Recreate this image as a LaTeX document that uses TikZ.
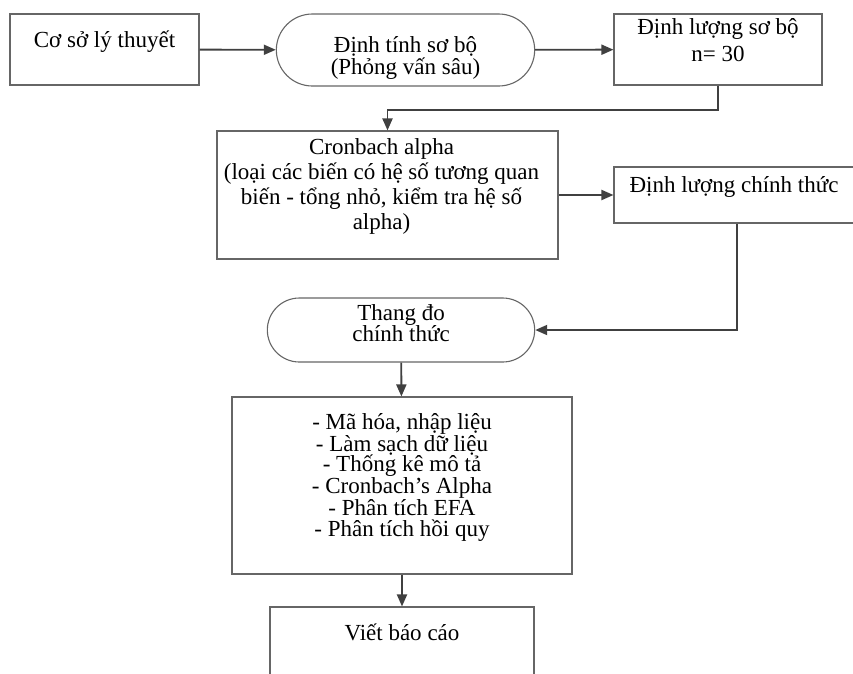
\documentclass[tikz,border=0pt]{standalone}
\usepackage{fontspec}
\setmainfont{Liberation Serif}
\usetikzlibrary{positioning,shapes.misc,arrows.meta}

\begin{document}
\begin{tikzpicture}[x=1pt, y=-1pt,
    box/.style={rectangle, draw=black!60, line width=1.1pt},
    pill/.style={rounded rectangle, draw=black!60, line width=1.1pt},
    txt/.style={align=center, inner sep=0pt, anchor=base, font=\fontsize{23}{25}\selectfont},
    flow/.style={->, draw=black!75, line width=1.9pt},
    >={Triangle[length=12pt,width=10pt]}]
    \useasboundingbox (0,0) rectangle (853,673);
    \clip (0,0) rectangle (853,673);
    % Boxes
    \node[box, minimum width=189pt, minimum height=71pt] (theory) at (104.5,49.5) {};
    \node[pill, minimum width=265pt, minimum height=72pt] (qual) at (405.5,50) {};
    \node[box, minimum width=208pt, minimum height=71pt] (pilot) at (718,49.5) {};
    \node[box, minimum width=341pt, minimum height=128pt] (cronbach) at (387.5,195) {};
    \node[box, minimum width=246pt, minimum height=56pt] (formal) at (737,195) {};
    \node[pill, minimum width=274pt, minimum height=64pt] (scale) at (401,330) {};
    \node[box, minimum width=340pt, minimum height=177pt] (analysis) at (402,485.5) {};
    \node[box, minimum width=264pt, minimum height=93pt] (report) at (402,653.5) {};
    % Texts (base = last line)
    \node[txt] (theory-t) at ([yshift=-34pt]theory.north) {Cơ sở lý thuyết};
    \node[txt, font=\fontsize{23}{22}\selectfont] (qual-t) at ([yshift=-61pt]qual.north) {Định tính sơ bộ\\(Phỏng vấn sâu)};
    \node[txt, font=\fontsize{23}{27}\selectfont] (pilot-t) at ([yshift=-48pt]pilot.north) {Định lượng sơ bộ\\n= 30};
    \node[txt, font=\fontsize{23}{25}\selectfont] (cronbach-t) at ([xshift=-6pt,yshift=-99pt]cronbach.north) {Cronbach alpha\\(loại các biến có hệ số tương quan\\biến - tổng nhỏ, kiểm tra hệ số\\alpha)};
    \node[txt] (formal-t) at ([xshift=-3pt,yshift=-26pt]formal.north) {Định lượng chính thức};
    \node[txt, font=\fontsize{23}{21}\selectfont] (scale-t) at ([yshift=-44pt]scale.north) {Thang đo\\chính thức};
    \node[txt, font=\fontsize{23}{20.8}\selectfont] (analysis-t) at ([yshift=-140pt]analysis.north) {- Mã hóa, nhập liệu\\- Làm sạch dữ liệu\\- Thống kê mô tả\\- Cronbach’s Alpha\\- Phân tích EFA\\- Phân tích hồi quy};
    \node[txt] (report-t) at ([yshift=-34pt]report.north) {Viết báo cáo};
    % Arrows
    \draw[flow] (theory) -- (qual);
    \draw[flow] (qual) -- (pilot);
    \draw[flow] (pilot.south) -- ++(0,24) -| (cronbach.north);
    \draw[flow] (cronbach) -- (formal);
    \draw[flow] (formal.south) |- (scale.east);
    \draw[flow] (scale) -- (analysis);
    \draw[flow] (analysis) -- (report);
\end{tikzpicture}
\end{document}
